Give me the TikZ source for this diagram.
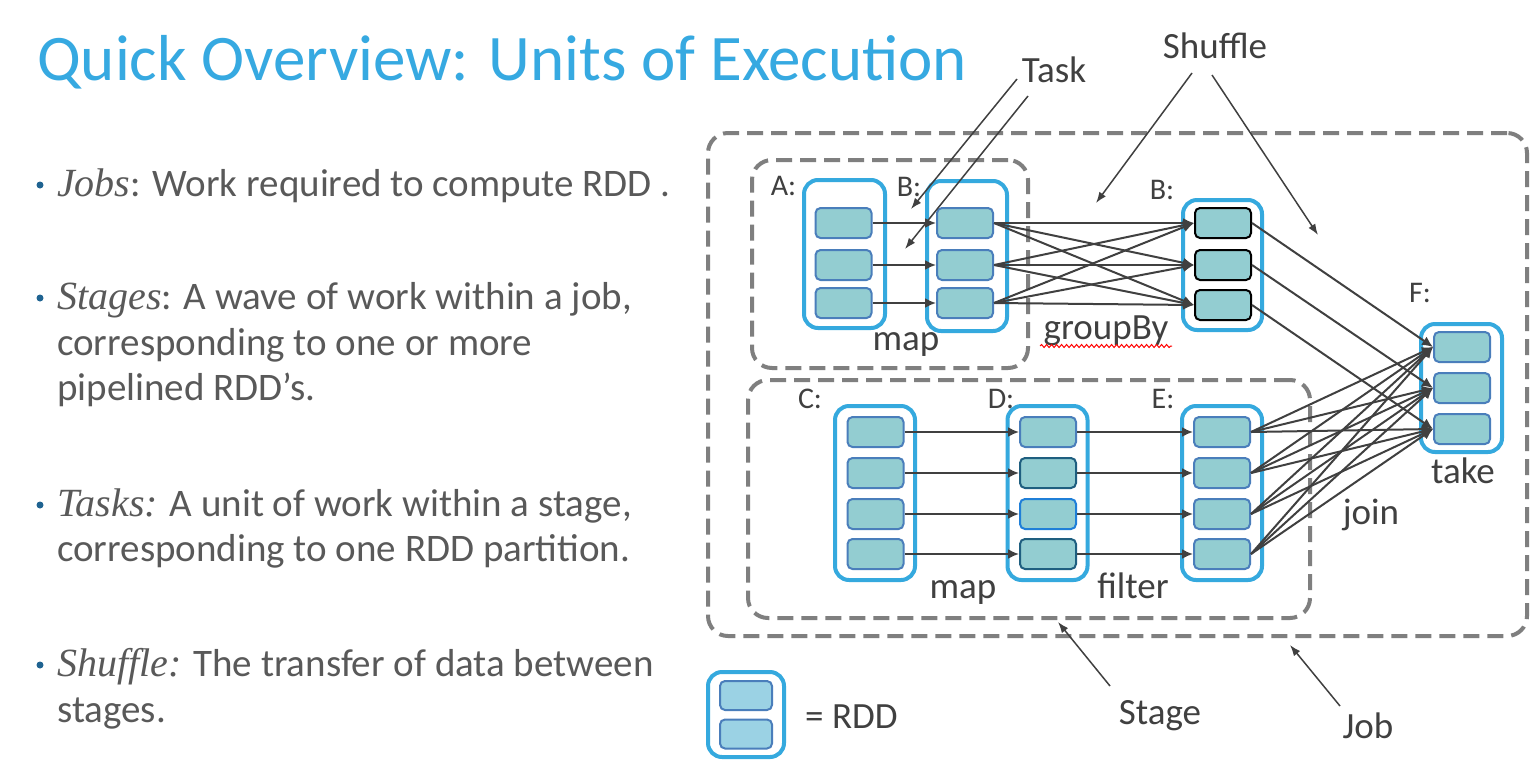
\documentclass[tikz,border=0pt]{standalone}
\usepackage{fontspec}
\setsansfont{Carlito}
\newfontfamily\termfont{Liberation Serif}
\usetikzlibrary{arrows.meta,decorations.pathmorphing}

\definecolor{titleblue}{HTML}{36A9E1}
\definecolor{bodygrey}{HTML}{595959}
\definecolor{bulletblue}{HTML}{1F6391}
\definecolor{rddblue}{HTML}{35A9DE}
\definecolor{partfill}{HTML}{93CDD1}
\definecolor{partedge}{HTML}{4A7EBB}
\definecolor{darkedge}{HTML}{1F5F80}
\definecolor{brightedge}{HTML}{1F7FD8}
\definecolor{legendfill}{HTML}{9BD2E4}
\definecolor{dashgrey}{HTML}{7F7F7F}
\definecolor{arrowgrey}{HTML}{404040}
\definecolor{labelgrey}{HTML}{404040}

% italic serif for the defined terms
\newcommand\emword[1]{{\termfont\itshape\fontsize{40}{46}\selectfont #1}}

\tikzset{
  rddbox/.style={draw=rddblue, line width=4pt, rounded corners=14pt, fill=white, inner sep=0pt},
  part/.style={draw=partedge, line width=2pt, fill=partfill, rounded corners=5pt,
    minimum width=56pt, minimum height=30pt, inner sep=0pt},
  stagebox/.style={draw=dashgrey, line width=4pt, dash pattern=on 16pt off 8pt,
    rounded corners=20pt, inner sep=0pt},
  flow/.style={draw=arrowgrey, line width=2pt, -{Latex[length=11pt,width=10pt]}},
  note/.style={draw=arrowgrey, line width=1.5pt, -{Latex[length=11pt,width=8pt]}},
  body/.style={anchor=base west, inner sep=0pt, text=bodygrey,
    font=\sffamily\fontsize{39}{46}\selectfont},
  bulletdot/.style={circle, fill=bulletblue, inner sep=0pt, minimum size=7pt},
  lbl/.style={anchor=base, inner sep=0pt, text=labelgrey,
    font=\sffamily\fontsize{37}{44}\selectfont},
  letter/.style={anchor=base, inner sep=0pt, text=labelgrey,
    font=\sffamily\fontsize{30}{36}\selectfont},
}

\begin{document}
\begin{tikzpicture}[x=1pt, y=-1pt]
\useasboundingbox[fill=white] (0,0) rectangle (1530,772);

% title
\node[anchor=base west, inner sep=0pt, text=titleblue,
  font=\sffamily\fontsize{65}{78}\selectfont] (title) at (37,80)
  {Quick Overview: Units of Execution};

% bullet list
\node[bulletdot] (dot1) at (40,185) {};
\node[body] (l1) at (57,196) {\emword{Jobs}: Work required to compute RDD .};
\node[bulletdot] (dot2) at (40,298) {};
\node[body] (l2a) at (57,309) {\emword{Stages}: A wave of work within a job,};
\node[body] (l2b) at (57,355) {corresponding to one or more};
\node[body] (l2c) at (57,400) {pipelined RDD’s.};
\node[bulletdot] (dot3) at (40,505) {};
\node[body] (l3a) at (57,516) {\emword{Tasks:} A unit of work within a stage,};
\node[body] (l3b) at (57,561) {corresponding to one RDD partition.};
\node[bulletdot] (dot4) at (40,665) {};
\node[body] (l4a) at (57,676) {\emword{Shuffle:} The transfer of data between};
\node[body] (l4b) at (57,722) {stages.};

% job and stage outlines
\node[stagebox, minimum width=819pt, minimum height=503pt] (job) at (1117.5,384.5) {};
\node[stagebox, minimum width=276pt, minimum height=208pt] (stage1) at (890,264) {};
\node[stagebox, minimum width=562pt, minimum height=238pt] (stage2) at (1029,499) {};

% RDD containers
\node[rddbox, minimum width=81pt, minimum height=148pt] (rA) at (844.5,254) {};
\node[rddbox, minimum width=80pt, minimum height=150pt] (rBm) at (967,256) {};
\node[rddbox, minimum width=79pt, minimum height=130pt] (rBg) at (1222.5,265) {};
\node[rddbox, minimum width=81pt, minimum height=128pt] (rF) at (1461.5,388) {};
\node[rddbox, minimum width=80pt, minimum height=174pt] (rC) at (875,493) {};
\node[rddbox, minimum width=80pt, minimum height=174pt] (rD) at (1047.5,493) {};
\node[rddbox, minimum width=80pt, minimum height=174pt] (rE) at (1222,493) {};

% partitions
\foreach \i/\y in {1/223,2/265,3/303} {
  \node[part] (A\i) at (843.5,\y) {};
  \node[part] (Bm\i) at (965,\y) {};
}
\foreach \i/\y in {1/223,2/265,3/305}
  \node[part, draw=black] (Bg\i) at (1223,\y) {};
\foreach \i/\y in {1/347,2/388,3/429}
  \node[part] (F\i) at (1462,\y) {};
\foreach \i/\y/\e in {1/432/partedge,2/473/darkedge,3/514/brightedge,4/554/darkedge} {
  \node[part] (C\i) at (875.5,\y) {};
  \node[part, draw=\e] (D\i) at (1048,\y) {};
  \node[part] (E\i) at (1222,\y) {};
}

% narrow dependencies
\foreach \i in {1,2,3}
  \draw[flow] (A\i.east) -- (Bm\i.west);
\foreach \i in {1,...,4} {
  \draw[flow] (C\i.east) -- (D\i.west);
  \draw[flow] (D\i.east) -- (E\i.west);
}
% wide dependencies
\foreach \i in {1,2,3}
  \foreach \j in {1,2,3}
    \draw[flow] (Bm\i.east) -- (Bg\j.west);
\foreach \i in {1,2,3}
  \draw[flow] (Bg\i.east) -- (F\i.west);
\foreach \i in {1,...,4}
  \foreach \j in {1,2,3}
    \draw[flow] (E\i.east) -- (F\j.west);

% RDD letters
\node[letter] (lA) at (783.5,195) {A:};
\node[letter] (lB1) at (909,196) {B:};
\node[letter] (lB2) at (1162,199) {B:};
\node[letter] (lF) at (1420,302) {F:};
\node[letter] (lC) at (810,408) {C:};
\node[letter] (lD) at (1001,408) {D:};
\node[letter] (lE) at (1163,408) {E:};

% operation names
\node[lbl] (opmap1) at (906,350) {map};
\node[lbl] (opgroup) at (1106,339) {groupBy};
\draw[red, line width=1pt, decorate, decoration={snake, amplitude=1.5pt, segment length=5pt}]
  (1040,346) -- (1172,346);
\node[lbl] (opmap2) at (963,598) {map};
\node[lbl] (opfilter) at (1133,598) {filter};
\node[lbl] (optake) at (1463,483) {take};
\node[lbl] (opjoin) at (1371,524) {join};

% callouts
\node[lbl] (task) at (1054,82) {Task};
\node[lbl] (shuffle) at (1215,58) {Shuffle};
\node[lbl] (stage) at (1160,724) {Stage};
\node[lbl] (jobl) at (1368,738) {Job};

\coordinate (taskS1) at (1017,79);  \coordinate (taskT1) at (911,209);
\coordinate (taskS2) at (1028,96);  \coordinate (taskT2) at (905,249);
\coordinate (shufS1) at (1192,73);  \coordinate (shufT1) at (1096,203);
\coordinate (shufS2) at (1212,75);  \coordinate (shufT2) at (1318,235);
\coordinate (stageS) at (1110,686); \coordinate (stageT) at (1058,622);
\coordinate (jobS) at (1340,706);   \coordinate (jobT) at (1290,645);
\draw[note] (taskS1) -- (taskT1);
\draw[note] (taskS2) -- (taskT2);
\draw[note] (shufS1) -- (shufT1);
\draw[note] (shufS2) -- (shufT2);
\draw[note] (stageS) -- (stageT);
\draw[note] (jobS) -- (jobT);

% legend
\node[rddbox, minimum width=76pt, minimum height=85pt] (legbox) at (746,714.5) {};
\node[part, fill=legendfill, minimum width=52pt, minimum height=29pt] (leg1) at (746,695.5) {};
\node[part, fill=legendfill, minimum width=52pt, minimum height=29pt] (leg2) at (746,734) {};
\node[lbl, anchor=base west] (legtext) at (805,728) {= RDD};
\end{tikzpicture}
\end{document}
